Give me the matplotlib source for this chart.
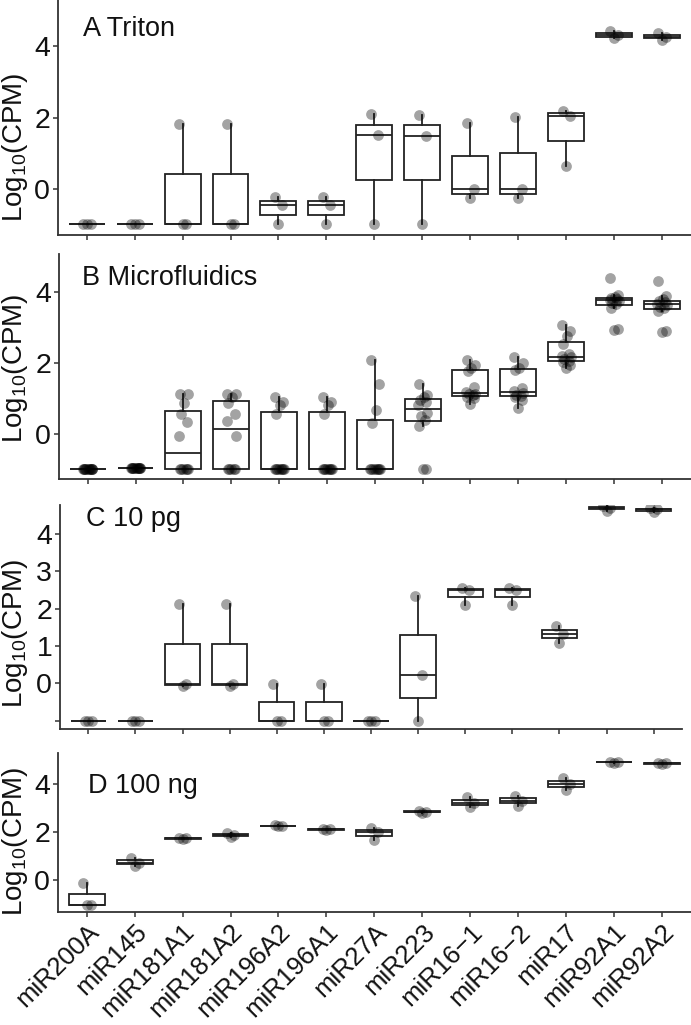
import matplotlib
matplotlib.use("Agg")
import matplotlib.pyplot as plt
import numpy as np

# ---------------- data ----------------
categories = ["miR200A", "miR145", "miR181A1", "miR181A2", "miR196A2", "miR196A1",
              "miR27A", "miR223", "miR16\u22121", "miR16\u22122", "miR17", "miR92A1", "miR92A2"]

panel_titles = ["A Triton", "B Microfluidics", "C 10 pg", "D 100 ng"]

triton = [
    [-1, -1, -1],
    [-1, -1, -1],
    [-1, -1, 1.83],
    [-1, -1, 1.83],
    [-1, -0.47, -0.24],
    [-1, -0.47, -0.24],
    [-1, 1.51, 2.09],
    [-1, 1.49, 2.07],
    [-0.27, -0.02, 1.85],
    [-0.27, -0.02, 2.02],
    [0.64, 2.05, 2.18],
    [4.22, 4.32, 4.42],
    [4.18, 4.26, 4.36],
]

microfluidics = [
    [-1, -1, -1, -1, -1, -1, -1, -1, -1, -1, -1, -1],
    [-0.95, -0.95, -0.95, -0.95, -0.95, -0.95, -0.95, -0.95, -0.95, -0.95, -0.95, -0.95],
    [-1, -1, -1, -1, -1, -1, -0.07, 0.34, 0.56, 0.87, 1.12, 1.12],
    [-1, -1, -1, -1, -1, -0.07, 0.35, 0.57, 0.87, 1.05, 1.12, 1.12],
    [-1, -1, -1, -1, -1, -1, -1, -1, 0.57, 0.80, 0.89, 1.05],
    [-1, -1, -1, -1, -1, -1, -1, -1, 0.57, 0.80, 0.89, 1.05],
    [-1, -1, -1, -1, -1, -1, -1, -1, 0.31, 0.66, 1.40, 2.07],
    [-1, -1, 0.23, 0.40, 0.51, 0.59, 0.82, 0.90, 0.95, 1.05, 1.10, 1.40],
    [0.85, 1.00, 1.04, 1.08, 1.12, 1.13, 1.19, 1.33, 1.78, 1.85, 1.95, 2.08],
    [0.73, 0.95, 1.03, 1.06, 1.10, 1.15, 1.21, 1.28, 1.80, 1.85, 2.00, 2.17],
    [1.86, 1.95, 2.02, 2.05, 2.10, 2.15, 2.19, 2.26, 2.54, 2.75, 2.90, 3.07],
    [2.93, 2.95, 3.55, 3.65, 3.68, 3.74, 3.77, 3.79, 3.81, 3.85, 3.90, 4.39],
    [2.87, 2.90, 3.45, 3.55, 3.58, 3.62, 3.66, 3.70, 3.73, 3.78, 3.88, 4.31],
]

pg10 = [
    [-1, -1, -1],
    [-1, -1, -1],
    [-0.08, -0.02, 2.11],
    [-0.08, -0.02, 2.11],
    [-1, -1, -0.02],
    [-1, -1, -0.02],
    [-1, -1, -1],
    [-1, 0.23, 2.34],
    [2.10, 2.50, 2.56],
    [2.10, 2.50, 2.56],
    [1.09, 1.32, 1.54],
    [4.62, 4.69, 4.74],
    [4.58, 4.65, 4.70],
]

ng100 = [
    [-1, -1, -0.12],
    [0.59, 0.73, 0.94],
    [1.71, 1.74, 1.77],
    [1.78, 1.86, 1.96],
    [2.23, 2.25, 2.27],
    [2.09, 2.11, 2.13],
    [1.67, 2.01, 2.15],
    [2.80, 2.84, 2.88],
    [3.05, 3.21, 3.46],
    [3.08, 3.28, 3.49],
    [3.74, 3.97, 4.21],
    [4.86, 4.88, 4.90],
    [4.81, 4.83, 4.85],
]

c_yticks = [-1, 0, 1, 2, 3, 4]
c_yticklabels = ["", "0", "1", "2", "3", "4"]
std_yticks = [0, 2, 4]
std_yticklabels = ["0", "2", "4"]

# ---------------- style / layout ----------------
W, H = 691, 1025
plt.rcParams["font.family"] = ["Liberation Sans", "DejaVu Sans"]
plt.rcParams["mathtext.fontset"] = "custom"
plt.rcParams["mathtext.rm"] = "Liberation Sans"
plt.rcParams["mathtext.it"] = "Liberation Sans:italic"

JITTER = [0.0, 0.08, -0.07, 0.05, -0.04, 0.1, -0.09, 0.07, -0.06, 0.02, 0.09, -0.08]
AXCOL = "#333333"
LINECOL = "#222222"

fig = plt.figure(figsize=(W / 100, H / 100), dpi=100)

layout = [
    # data, (left, top, right, bottom) px, ylim, yticks, labels, title pos, ylabel center
    (triton, (58, 0, 690.5, 235), (-1.3, 5.3), std_yticks, std_yticklabels, (83, 36), (15, 147)),
    (microfluidics, (59, 254, 690.5, 479), (-1.27, 5.06), std_yticks, std_yticklabels, (82, 285), (15, 368)),
    (pg10, (60, 505, 682, 729), (-1.22, 4.77), c_yticks, c_yticklabels, (86, 526), (15, 633)),
    (ng100, (58, 753, 690.5, 912), (-1.3, 5.26), std_yticks, std_yticklabels, (88, 793), (15, 841)),
]

positions = np.arange(1, len(categories) + 1)

for i, (data, (l, t, r, b), ylim, yt, ytl, tpos, ylpos) in enumerate(layout):
    ax = fig.add_axes([l / W, 1 - b / H, (r - l) / W, (b - t) / H])
    ax.boxplot(data, positions=positions, widths=0.75, whis=1.5, showfliers=False,
               showcaps=False, patch_artist=True,
               boxprops=dict(facecolor="white", edgecolor=LINECOL, linewidth=1.3),
               medianprops=dict(color=LINECOL, linewidth=1.3),
               whiskerprops=dict(color=LINECOL, linewidth=1.3),
               zorder=2)
    for p, vals in zip(positions, data):
        xs = [p + JITTER[k % len(JITTER)] for k in range(len(vals))]
        ax.scatter(xs, vals, s=60, color="black", alpha=0.36, linewidths=0, zorder=3)
    ax.set_xlim(0.4, len(categories) + 0.6)
    ax.set_ylim(*ylim)
    ax.set_yticks(yt)
    ax.set_yticklabels(ytl)
    ax.set_xticks(positions)
    for s in ["top", "right"]:
        ax.spines[s].set_visible(False)
    for s in ["left", "bottom"]:
        ax.spines[s].set_color(AXCOL)
        ax.spines[s].set_linewidth(1.3)
    ax.tick_params(axis="both", length=3.6, width=1.1, color=AXCOL, pad=2,
                   labelsize=20.5, labelcolor="#111111")
    if i == len(layout) - 1:
        ax.set_xticklabels(categories, rotation=45, ha="right", va="top",
                           rotation_mode="anchor", fontsize=18.5)
    else:
        ax.tick_params(axis="x", labelbottom=False)
    fig.text(tpos[0] / W, 1 - tpos[1] / H, panel_titles[i], fontsize=19.5,
             ha="left", va="baseline", color="#111111")
    fig.text(ylpos[0] / W, 1 - ylpos[1] / H, "Log$_{10}$(CPM)", fontsize=20,
             rotation=90, ha="center", va="center", color="#111111")

fig.savefig("out.png", dpi=100)
